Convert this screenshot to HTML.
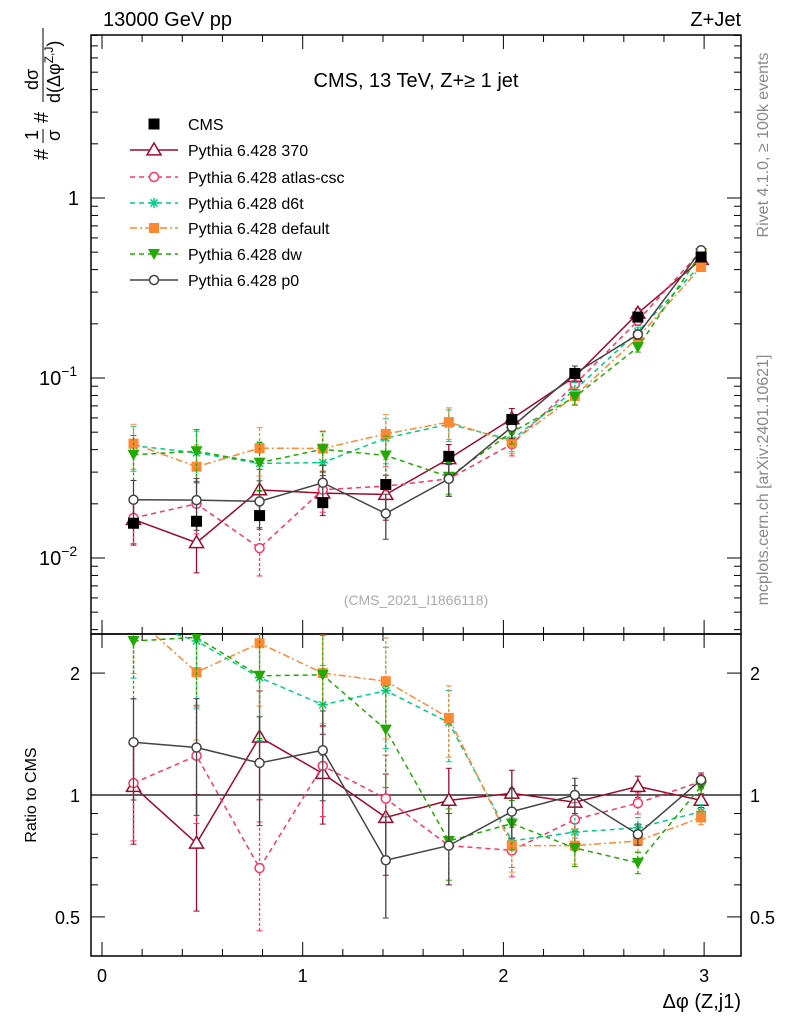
<!DOCTYPE html>
<html><head><meta charset="utf-8"><style>
body{margin:0;background:#fff;font-family:"Liberation Sans",sans-serif}
svg text{font-family:"Liberation Sans","DejaVu Sans",sans-serif}
</style></head><body>
<svg id="c" width="786" height="1024" xmlns="http://www.w3.org/2000/svg"></svg>
<script>
const xs=[0.157,0.471,0.785,1.100,1.414,1.728,2.042,2.356,2.670,2.985];
const cms=[0.0156,0.0160,0.0172,0.0203,0.0256,0.0367,0.0588,0.106,0.218,0.47];
const cmsErr=[0.03,0.03,0.03,0.03,0.03,0.03,0.03,0.03,0.03,0.03];
const r370=[1.05,0.76,1.39,1.13,0.88,0.97,1.01,0.96,1.05,0.97];
const rAtlas=[1.07,1.25,0.66,1.18,0.98,0.75,0.73,0.87,0.955,1.08];
const rD6t=[2.7,2.4,1.95,1.67,1.81,1.51,0.77,0.81,0.83,0.91];
const rDef=[2.77,2.01,2.37,2.0,1.91,1.55,0.75,0.75,0.77,0.88];
const rDw=[2.4,2.45,1.97,1.98,1.45,0.77,0.85,0.74,0.68,1.05];
const rP0=[1.35,1.31,1.2,1.29,0.69,0.75,0.91,1.0,0.8,1.09];
const relErr=[0.28,0.32,0.3,0.25,0.28,0.2,0.14,0.1,0.06,0.04];
const series=[
 {name:'Pythia 6.428 370',r:r370,col:'#9b0b2b',dash:'',m:'tri'},
 {name:'Pythia 6.428 atlas-csc',r:rAtlas,col:'#ff3366',dash:'5,4',m:'circ'},
 {name:'Pythia 6.428 d6t',r:rD6t,col:'#00cc88',dash:'5,4',m:'star'},
 {name:'Pythia 6.428 default',r:rDef,col:'#ff8833',dash:'7,3,2,3',m:'sq'},
 {name:'Pythia 6.428 dw',r:rDw,col:'#22aa00',dash:'5,4',m:'tdown'},
 {name:'Pythia 6.428 p0',r:rP0,col:'#444444',dash:'',m:'circ'}];
const NS='http://www.w3.org/2000/svg',svg=document.getElementById('c');
const L=91,R=741,T=35,M=634,B=956;
const X=v=>102+v*200.7;
const Y=v=>198-180*Math.log10(v);
const YR=v=>795-405*Math.log10(v);
function el(t,a,p){const e=document.createElementNS(NS,t);for(const k in a)e.setAttribute(k,a[k]);(p||svg).appendChild(e);return e;}
function txt(s,x,y,a,p){const e=el('text',Object.assign({x:x,y:y,'font-size':18,fill:'#000'},a),p);e.textContent=s;return e;}
const defs=el('defs',{});
const c1=el('clipPath',{id:'cm'},defs);el('rect',{x:L,y:T,width:R-L,height:M-T},c1);
const c2=el('clipPath',{id:'cr'},defs);el('rect',{x:L,y:M,width:R-L,height:B-M},c2);
const f1=el('rect',{x:L,y:T,width:R-L,height:M-T,fill:'none',stroke:'#000','stroke-width':1.5});

const f2=el('rect',{x:L,y:M,width:R-L,height:B-M,fill:'none',stroke:'#000','stroke-width':1.5});

for(let v=0;v<=3.2;v+=0.2){const x=X(v);if(x>R)break;const maj=Math.abs(v-Math.round(v))<1e-6;const l=maj?14:7;
 el('line',{x1:x,y1:M,x2:x,y2:M-l,stroke:'#000'});el('line',{x1:x,y1:T,x2:x,y2:T+l,stroke:'#000'});
 el('line',{x1:x,y1:B,x2:x,y2:B-l,stroke:'#000'});el('line',{x1:x,y1:M,x2:x,y2:M+l,stroke:'#000'});
 if(maj){const t=txt(String(Math.round(v)),x,982,{'text-anchor':'middle'});}}
for(let d=-3;d<=0;d++)for(let k=1;k<=9;k++){const v=k*Math.pow(10,d);const y=Y(v);if(y<T||y>M)continue;const l=k==1?14:7;
 el('line',{x1:L,y1:y,x2:L+l,y2:y,stroke:'#000'});el('line',{x1:R,y1:y,x2:R-l,y2:y,stroke:'#000'});}
const yl=[[1,'1',''],[0.1,'10','−1'],[0.01,'10','−2']];
yl.forEach(a=>{const y=Y(a[0]);const t=txt(a[1],a[2]?39:79,y+7,{'text-anchor':a[2]?'start':'end','font-size':20});
 if(a[2]){const s=el('tspan',{dy:-9,'font-size':14},t);s.textContent=a[2];}
 });
[0.5,0.6,0.7,0.8,0.9,1,2].forEach(v=>{const y=YR(v);const l=(v==1||v==2||v==0.5)?14:7;
 el('line',{x1:L,y1:y,x2:L+l,y2:y,stroke:'#000'});el('line',{x1:R,y1:y,x2:R-l,y2:y,stroke:'#000'});});
[[2,'2'],[1,'1'],[0.5,'0.5']].forEach(a=>{const y=YR(a[0])+7;
 const t=txt(a[1],80,y,{'text-anchor':'end'});
 const t2=txt(a[1],750,y,{});});
el('line',{x1:L,y1:YR(1),x2:R,y2:YR(1),stroke:'#000','stroke-width':1.2});
function marker(m,x,y,col,p,s){s=s||7;
 if(m=='tri')el('polygon',{points:`${x},${y-s} ${x-s},${y+s*0.7} ${x+s},${y+s*0.7}`,fill:'#fff',stroke:col,'stroke-width':1.5},p);
 else if(m=='tdown')el('polygon',{points:`${x-6},${y-5} ${x+6},${y-5} ${x},${y+6}`,fill:col},p);
 else if(m=='circ')el('circle',{cx:x,cy:y,r:4.5,fill:'#fff',stroke:col,'stroke-width':1.5},p);
 else if(m=='sq')el('rect',{x:x-5,y:y-5,width:10,height:10,fill:col},p);
 else if(m=='star'){[0,45,90,135].forEach(a=>{const r=a*Math.PI/180;el('line',{x1:x-5*Math.cos(r),y1:y-5*Math.sin(r),x2:x+5*Math.cos(r),y2:y+5*Math.sin(r),stroke:col,'stroke-width':1.5},p);});}
 else if(m=='bsq')el('rect',{x:x-5.5,y:y-5.5,width:11,height:11,fill:col},p);}
function draw(clip,vals,errs,fy,s,nm){
 const g=el('g',{'clip-path':`url(#${clip})`});
 
 el('polyline',{points:vals.map((v,i)=>X(xs[i])+','+fy(v)).join(' '),fill:'none',stroke:s.col,'stroke-width':1.5,'stroke-dasharray':s.dash},g);
 vals.forEach((v,i)=>{const x=X(xs[i]);const lo=fy(v*(1-errs[i])),hi=fy(v*(1+errs[i]));
  el('line',{x1:x,y1:lo,x2:x,y2:hi,stroke:s.col,'stroke-width':1.3,'stroke-dasharray':s.dash?'3,2':''},g);
  el('line',{x1:x-3,y1:lo,x2:x+3,y2:lo,stroke:s.col},g);el('line',{x1:x-3,y1:hi,x2:x+3,y2:hi,stroke:s.col},g);
  marker(s.m,x,fy(v),s.col,g);});}
series.forEach((s,k)=>{
 const main=s.r.map((r,i)=>r*cms[i]);
 draw('cm',main,relErr,Y,s,'series-'+k);
 draw('cr',s.r,relErr,YR,s,'ratio-series-'+k);});
const gc=el('g',{});
cms.forEach((v,i)=>{const x=X(xs[i]);el('line',{x1:x,y1:Y(v*(1-cmsErr[i])),x2:x,y2:Y(v*(1+cmsErr[i])),stroke:'#000'},gc);marker('bsq',x,Y(v),'#000',gc);});
const lg=el('g',{});
const ly=[124,150,177,203,228,254,280];
marker('bsq',154,ly[0],'#000',lg);txt('CMS',188,ly[0]+6,{'font-size':16},lg);
series.forEach((s,k)=>{const y=ly[k+1];el('line',{x1:130,y1:y,x2:178,y2:y,stroke:s.col,'stroke-width':1.5,'stroke-dasharray':s.dash},lg);
 marker(s.m,154,y,s.col,lg);txt(s.name,188,y+6,{'font-size':16},lg);});
let t;
t=txt('13000 GeV pp',103,26,{'font-size':20});
t=txt('Z+Jet',741,26,{'font-size':20,'text-anchor':'end'});
t=txt('CMS, 13 TeV, Z+≥ 1 jet',416,87,{'font-size':20,'text-anchor':'middle'});
t=txt('(CMS_2021_I1866118)',416,605,{'font-size':14,fill:'#aaa','text-anchor':'middle'});
t=txt('Δφ (Z,j1)',741,1008,{'font-size':20,'text-anchor':'end'});
t=txt('Ratio to CMS',0,0,{'font-size':16,'text-anchor':'middle',transform:'translate(36,795) rotate(-90)'});
t=txt('Rivet 4.1.0, ≥ 100k events',0,0,{'font-size':16,fill:'#888','text-anchor':'middle',transform:'translate(768,145) rotate(-90)'});
t=txt('mcplots.cern.ch [arXiv:2401.10621]',0,0,{'font-size':16,fill:'#888','text-anchor':'middle',transform:'translate(768,480) rotate(-90)'});
// y-axis title as rotated fraction group
const yt=el('g',{transform:'translate(0,0) rotate(-90)'});

txt('#',-160,48,{'font-size':20},yt);
txt('1',-140,38,{'font-size':18},yt);el('line',{x1:-143,y1:43,x2:-129,y2:43,stroke:'#000'},yt);txt('σ',-141,60,{'font-size':18},yt);
txt('#',-123,48,{'font-size':20},yt);
txt('dσ',-90,38,{'font-size':18},yt);el('line',{x1:-102,y1:43,x2:-28,y2:43,stroke:'#000'},yt);
const dd=txt('d(Δφ',-103,60,{'font-size':18},yt);const sup=el('tspan',{dy:-7,'font-size':12},dd);sup.textContent='Z,J';const cl=el('tspan',{dy:7,'font-size':18},dd);cl.textContent=')';
</script>
</body></html>
